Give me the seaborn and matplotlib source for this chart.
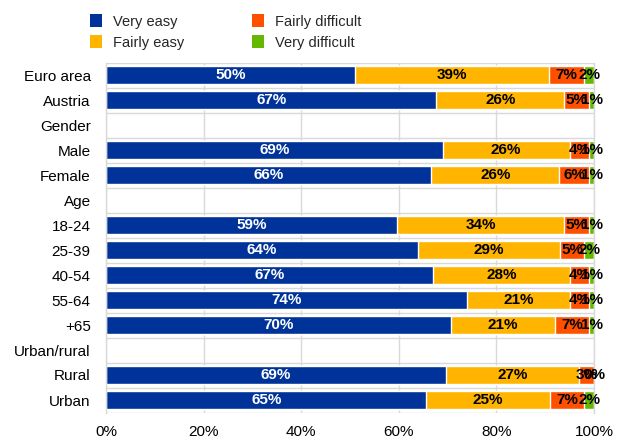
import numpy as np
import pandas as pd
import matplotlib
matplotlib.use("Agg")
import matplotlib.pyplot as plt
import seaborn as sns
from matplotlib.patches import Patch
from matplotlib.ticker import MultipleLocator, FixedLocator

# ── Data ──────────────────────────────────────────────────────────────────────

rows = ["Euro area", "Austria", "Gender", "Male", "Female", "Age", "18-24",
        "25-39", "40-54", "55-64", "+65", "Urban/rural", "Rural", "Urban"]
headers = ["Gender", "Age", "Urban/rural"]

very_easy        = [50, 67, 0, 69, 66, 0, 59, 64, 67, 74, 70, 0, 69, 65]
fairly_easy      = [39, 26, 0, 26, 26, 0, 34, 29, 28, 21, 21, 0, 27, 25]
fairly_difficult = [7, 5, 0, 4, 6, 0, 5, 5, 4, 4, 7, 0, 3, 7]
very_difficult   = [2, 1, 0, 1, 1, 0, 1, 2, 1, 1, 1, 0, 0, 2]

series = ["Very easy", "Fairly easy", "Fairly difficult", "Very difficult"]
colors = ["#003399", "#FFB400", "#FF5000", "#65B800"]
text_colors = ["white", "black", "black", "black"]

# ── Prepare ───────────────────────────────────────────────────────────────────

df = pd.DataFrame({
    "row": rows,
    "Very easy": very_easy,
    "Fairly easy": fairly_easy,
    "Fairly difficult": fairly_difficult,
    "Very difficult": very_difficult,
})
totals = df[series].sum(axis=1).replace(0, 1)
shares = df[series].div(totals, axis=0) * 100
cum = shares.cumsum(axis=1)

sns.set_theme(style="white")
plt.rcParams["font.family"] = ["Liberation Sans", "DejaVu Sans"]

fig = plt.figure(figsize=(6.19, 4.41), dpi=100)
ax = fig.add_axes([106 / 619, 1 - 412.5 / 441, 488 / 619, 350 / 441])

# draw stacked bars from the outermost cumulative segment inwards
for i in reversed(range(len(series))):
    plot_df = pd.DataFrame({"row": rows, "value": cum[series[i]]})
    sns.barplot(data=plot_df, y="row", x="value", order=rows, orient="h",
                color=colors[i], saturation=1, width=0.72, ax=ax, zorder=2)

# segment labels
for r, name in enumerate(rows):
    if name in headers:
        continue
    left = 0
    for i, s in enumerate(series):
        w = shares.loc[r, s]
        ax.text(left + w / 2, r, f"{df.loc[r, s]}%", ha="center", va="center",
                fontsize=11, fontweight="bold", color=text_colors[i], zorder=3)
        left += w

ax.set_xlim(0, 100)
ax.set_ylim(len(rows) - 0.5, -0.5)
ax.xaxis.set_major_locator(MultipleLocator(20))
ax.set_xticklabels([f"{int(t)}%" for t in ax.get_xticks()])
ax.yaxis.set_minor_locator(FixedLocator(np.arange(-0.5, len(rows), 1)))
ax.set_xlabel("")
ax.set_ylabel("")
ax.tick_params(axis="both", labelsize=11, colors="black", length=0)
ax.tick_params(axis="x", pad=9)
ax.tick_params(axis="y", pad=11)

ax.grid(axis="x", which="major", color="#d9d9d9", linewidth=1, zorder=0)
ax.grid(axis="y", which="minor", color="#d9d9d9", linewidth=1, zorder=0)
ax.grid(axis="y", which="major", visible=False)
ax.set_axisbelow(True)
for side in ["top", "bottom"]:
    ax.spines[side].set_visible(False)
for side in ["left", "right"]:
    ax.spines[side].set_color("#d9d9d9")
    ax.spines[side].set_linewidth(1)

handles = [Patch(facecolor=c, edgecolor="none", label=s) for s, c in zip(series, colors)]
fig.legend(handles=handles, loc="upper left", bbox_to_anchor=(0.124, 0.997), ncol=2,
           frameon=False, fontsize=10.5, handlelength=0.85, handleheight=0.95,
           handletextpad=0.75, columnspacing=4.6, labelspacing=0.45)

fig.savefig("out.png", dpi=100)
